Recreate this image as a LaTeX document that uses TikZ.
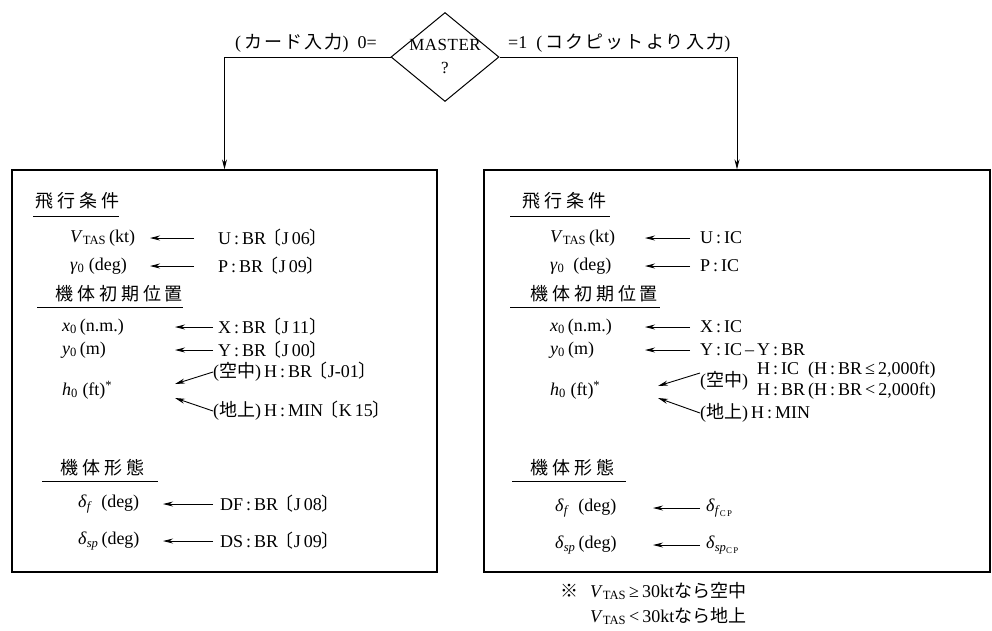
\documentclass[tikz,border=0pt]{standalone}
\usepackage{fontspec}
\setmainfont{Liberation Serif}
\newfontfamily\jp{Noto Sans CJK JP}
\newfontfamily\jpi[LetterSpace=12]{Noto Sans CJK JP}
\newfontfamily\jph[LetterSpace=22]{Noto Sans CJK JP}
\newcommand\J[1]{{\jp #1}}
\newcommand\JI[1]{{\jpi #1}}
\newcommand\LB{\kern-0.3em{\jp 〔}}
\newcommand\RB{{\jp 〕}}
\newcommand\iv[1]{\textit{#1}}
\usetikzlibrary{shapes.geometric,arrows.meta,calc}
\tikzset{
  txt/.style={inner sep=0pt, anchor=west, font=\fontsize{18}{21}\selectfont},
  hdr/.style={inner sep=0pt, anchor=west, font=\fontsize{18}{21}\selectfont\jph},
  box/.style={draw, line width=1.2pt, rectangle, inner sep=0pt},
  arr/.style={line width=0.9pt, -{Stealth[length=10pt,width=5pt]}},
  ul/.style={line width=0.9pt}
}
\begin{document}
\begin{tikzpicture}[x=1pt,y=-1pt]
\useasboundingbox (0,0) rectangle (992,630);
% decision
\node[draw, diamond, line width=1pt, minimum width=108pt, minimum height=89pt, inner sep=0pt] (m) at (445,57) {};
\node[align=center, inner sep=0pt, font=\fontsize{17}{23}\selectfont\addfontfeature{LetterSpace=3}] (mt) at ([yshift=1pt]m.center) {MASTER\\?};
\node[txt, anchor=east] (l0) at (377,43) {(\,\JI{カード入力})\ \ 0=};
\node[txt] (l1) at (508,43) {=1\ \ (\,\JI{コクピットより入力})};
% boxes
\node[box, minimum width=425pt, minimum height=402pt] (lbox) at (224.5,371) {};
\node[box, minimum width=506pt, minimum height=402pt] (rbox) at (737,371) {};
\draw[arr] (m.west) -| (lbox.north);
\draw[arr] (m.east) -| (rbox.north);

% ---------- left box
\node[hdr] (lh1) at (35,201) {飛行条件};
\draw[ul] ([xshift=-2pt,yshift=-7pt]lh1.south west) -- ([yshift=-7pt]lh1.south east);
\node[txt] (lv) at (70,238) {\iv{V}\textsubscript{TAS}\,(kt)};
\node[txt] (lu) at (218,238) {U\,:\,BR\,\LB J\,06\RB};
\draw[arr] ([xshift=-24pt]lu.west) -- ([xshift=-68pt]lu.west);
\node[txt] (lg) at (70,266) {\iv{γ}\textsubscript{0}\ (deg)};
\node[txt] (lp) at (218,266) {P\,:\,BR\,\LB J\,09\RB};
\draw[arr] ([xshift=-24pt]lp.west) -- ([xshift=-68pt]lp.west);

\node[hdr] (lh2) at (55,294) {機体初期位置};
\draw[ul] ([xshift=-18pt,yshift=-5pt]lh2.south west) -- ([yshift=-5pt]lh2.south east);
\node[txt] (lx) at (62,327) {\iv{x}\textsubscript{0}\,(n.m.)};
\node[txt] (lxs) at (218,327) {X\,:\,BR\,\LB J\,11\RB};
\draw[arr] ([xshift=-5pt]lxs.west) -- ([xshift=-43pt]lxs.west);
\node[txt] (ly) at (62,350) {\iv{y}\textsubscript{0}\,(m)};
\node[txt] (lys) at (218,350) {Y\,:\,BR\,\LB J\,00\RB};
\draw[arr] ([xshift=-5pt]lys.west) -- ([xshift=-43pt]lys.west);
\node[txt] (lh) at (62,390) {\iv{h}\textsubscript{0}\ (ft)\textsuperscript{*}};
\node[txt] (la) at (213,372) {(\J{空中})\,H\,:\,BR\,\LB J-01\RB};
\node[txt] (lgd) at (213,411) {(\J{地上})\,H\,:\,MIN\,\LB K\,15\RB};
\draw[arr] (la.west) -- ([xshift=-38pt,yshift=-12pt]la.west);
\draw[arr] (lgd.west) -- ([xshift=-38pt,yshift=13pt]lgd.west);

\node[hdr] (lh3) at (60,468) {機体形態};
\draw[ul] ([xshift=-18pt,yshift=-5pt]lh3.south west) -- ([xshift=14pt,yshift=-5pt]lh3.south east);
\node[txt] (ldf) at (78,504) {\iv{δ}\textsubscript{\iv{f}}\ \ (deg)};
\node[txt] (ldfs) at (220,504) {DF\,:\,BR\,\LB J\,08\RB};
\draw[arr] ([xshift=-7pt]ldfs.west) -- ([xshift=-57pt]ldfs.west);
\node[txt] (lds) at (78,541) {\iv{δ}\textsubscript{\iv{sp}}\,(deg)};
\node[txt] (ldss) at (220,541) {DS\,:\,BR\,\LB J\,09\RB};
\draw[arr] ([xshift=-7pt]ldss.west) -- ([xshift=-57pt]ldss.west);

% ---------- right box
\node[hdr] (rh1) at (522,201) {飛行条件};
\draw[ul] ([xshift=-12pt,yshift=-7pt]rh1.south west) -- ([xshift=4pt,yshift=-7pt]rh1.south east);
\node[txt] (rv) at (550,238) {\iv{V}\textsubscript{TAS}\,(kt)};
\node[txt] (ru) at (700,238) {U\,:\,IC};
\draw[arr] ([xshift=-10pt]ru.west) -- ([xshift=-55pt]ru.west);
\node[txt] (rg) at (550,266) {\iv{γ}\textsubscript{0}\ \ (deg)};
\node[txt] (rp) at (700,266) {P\,:\,IC};
\draw[arr] ([xshift=-10pt]rp.west) -- ([xshift=-55pt]rp.west);

\node[hdr] (rh2) at (530,294) {機体初期位置};
\draw[ul] ([xshift=-20pt,yshift=-5pt]rh2.south west) -- ([xshift=2pt,yshift=-5pt]rh2.south east);
\node[txt] (rx) at (550,327) {\iv{x}\textsubscript{0}\,(n.m.)};
\node[txt] (rxs) at (700,327) {X\,:\,IC};
\draw[arr] ([xshift=-10pt]rxs.west) -- ([xshift=-55pt]rxs.west);
\node[txt] (ry) at (550,350) {\iv{y}\textsubscript{0}\,(m)};
\node[txt] (rys) at (700,350) {Y\,:\,IC\,--\,Y\,:\,BR};
\draw[arr] ([xshift=-10pt]rys.west) -- ([xshift=-55pt]rys.west);
\node[txt] (rh) at (550,390) {\iv{h}\textsubscript{0}\ (ft)\textsuperscript{*}};
\node[txt] (ra) at (700,381) {(\J{空中})};
\node[txt, align=left] (rat) at (757,381) {H\,:\,IC\ \ (H\,:\,BR\,≤\,2,000ft)\\H\,:\,BR\,(H\,:\,BR\,<\,2,000ft)};
\node[txt] (rgd) at (700,413) {(\J{地上})\,H\,:\,MIN};
\draw[arr] ([yshift=8pt]ra.west) -- ([xshift=-42pt,yshift=-5pt]ra.west);
\draw[arr] (rgd.west) -- ([xshift=-42pt,yshift=15pt]rgd.west);

\node[hdr] (rh3) at (530,468) {機体形態};
\draw[ul] ([xshift=-18pt,yshift=-5pt]rh3.south west) -- ([xshift=12pt,yshift=-5pt]rh3.south east);
\node[txt] (rdf) at (555,508) {\iv{δ}\textsubscript{\iv{f}}\ \ (deg)};
\node[txt] (rdfs) at (706,508) {\iv{δ}\textsubscript{\iv{f}\textsubscript{C\,P}}};
\draw[arr] ([xshift=-6pt]rdfs.west) -- ([xshift=-53pt]rdfs.west);
\node[txt] (rds) at (555,545) {\iv{δ}\textsubscript{\iv{sp}}\,(deg)};
\node[txt] (rdss) at (706,545) {\iv{δ}\textsubscript{\iv{sp}\textsubscript{C\,P}}};
\draw[arr] ([xshift=-6pt]rdss.west) -- ([xshift=-53pt]rdss.west);

% ---------- footnote
\node[txt] (fm) at (560,591) {\J{※}};
\node[txt] (f1) at (590,591) {\iv{V}\textsubscript{TAS}\,≥\,30kt\J{なら空中}};
\node[txt] (f2) at (590,616) {\iv{V}\textsubscript{TAS}\,<\,30kt\J{なら地上}};
\end{tikzpicture}
\end{document}
